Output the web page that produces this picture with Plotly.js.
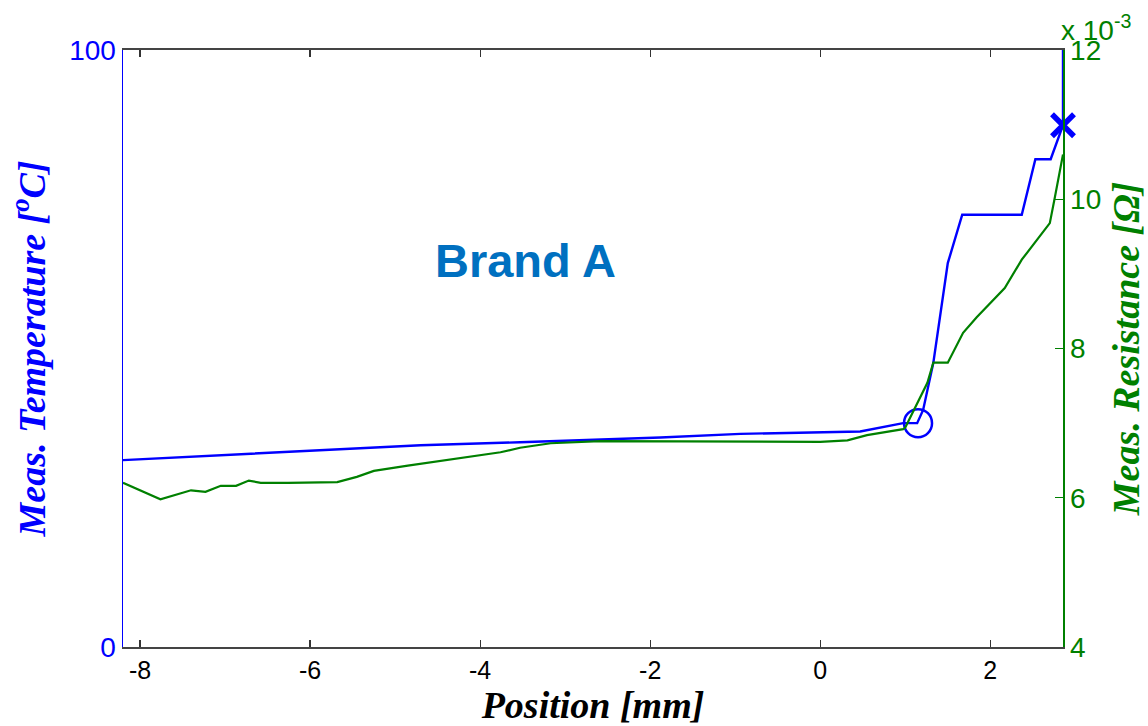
<!DOCTYPE html>
<html>
<head>
<meta charset="utf-8">
<script src="https://cdn.plot.ly/plotly-3.0.1.min.js"></script>
<style>
  html, body { margin: 0; padding: 0; background: #ffffff; }
  #chart { width: 1148px; height: 726px; }
</style>
</head>
<body>
<div id="chart"></div>
<script>
// Temperature trace (left axis, deg C) vs position (mm)
var tempPos = [-8.20, -5.88, -4.70, -3.53, -1.88, -0.94, 0.47, 0.975, 1.14, 1.21, 1.33, 1.50, 1.67, 2.37, 2.53, 2.71, 2.855, 2.855];
var tempVal = [31.3, 33.0, 33.8, 34.3, 35.1, 35.7, 36.1, 37.5, 37.5, 39.7, 47.6, 64.3, 72.4, 72.4, 81.7, 81.7, 87.4, 100];

// Resistance trace (right axis, x 10^-3 ohm) vs position (mm)
var resPos = [-8.20, -7.76, -7.40, -7.23, -7.05, -6.87, -6.72, -6.58, -6.26, -5.91, -5.68, -5.45, -5.25, -4.85, -4.31, -3.76, -3.53, -3.17, -2.59, -1.41, 0.0, 0.32, 0.55, 0.975, 1.0, 1.26, 1.33, 1.50, 1.68, 1.84, 2.17, 2.37, 2.70, 2.76, 2.855];
var resVal = [6.20, 5.98, 6.10, 6.08, 6.16, 6.16, 6.23, 6.20, 6.20, 6.21, 6.21, 6.28, 6.36, 6.43, 6.52, 6.61, 6.67, 6.73, 6.76, 6.76, 6.75, 6.77, 6.84, 6.92, 6.94, 7.54, 7.81, 7.81, 8.21, 8.42, 8.81, 9.19, 9.68, 10.03, 10.60];

// Markers
var circlePos = [1.15];
var circleVal = [37.5];
var crossPos = [2.855];
var crossVal = [87.4];

// Axis ticks
var xTicks = [-8, -6, -4, -2, 0, 2];
var yLeftTicks = [0, 100];
var yRightTicks = [4, 6, 8, 10, 12];

var blue = '#0000ff';
var green = '#008000';
var titleFont = { family: 'Liberation Serif, Times New Roman, serif', size: 38, weight: 'bold', style: 'italic' };

var traces = [
  { x: resPos, y: resVal, yaxis: 'y2', type: 'scatter', mode: 'lines',
    line: { color: green, width: 2.2 }, hoverinfo: 'skip' },
  { x: tempPos, y: tempVal, type: 'scatter', mode: 'lines',
    line: { color: blue, width: 2.4 }, hoverinfo: 'skip', cliponaxis: false },
  { x: circlePos, y: circleVal, type: 'scatter', mode: 'markers', cliponaxis: false,
    marker: { symbol: 'circle-open', size: 28, color: blue, line: { color: blue, width: 2.5 } } },
  { x: crossPos, y: crossVal, type: 'scatter', mode: 'markers', cliponaxis: false,
    marker: { symbol: 'x-thin-open', size: 22, color: blue, line: { color: blue, width: 5.5 } } }
];

var layout = {
  width: 1148, height: 726,
  margin: { l: 123, r: 85, t: 50, b: 79 },
  paper_bgcolor: '#ffffff', plot_bgcolor: '#ffffff',
  showlegend: false,
  xaxis: {
    range: [-8.20, 2.855], tickvals: xTicks, ticktext: xTicks.map(String),
    ticks: 'inside', ticklen: 7, tickwidth: 1.2, tickcolor: '#333333',
    showline: true, linecolor: '#444444', linewidth: 2, mirror: 'ticks',
    showgrid: false, zeroline: false,
    tickfont: { family: 'Liberation Sans, Arial, sans-serif', size: 25, color: '#000000' },
    title: { text: 'Position [mm]', font: Object.assign({}, titleFont, { color: '#000000' }), standoff: 6 }
  },
  yaxis: {
    range: [0, 100], tickvals: yLeftTicks, ticktext: yLeftTicks.map(String),
    ticks: '', showline: true, linecolor: blue, linewidth: 1.5,
    showgrid: false, zeroline: false,
    tickfont: { family: 'Liberation Sans, Arial, sans-serif', size: 28, color: blue },
    title: { text: 'Meas. Temperature [<sup>o</sup>C]', font: Object.assign({}, titleFont, { color: blue }), standoff: 12 }
  },
  yaxis2: {
    range: [4, 12], tickvals: yRightTicks, ticktext: yRightTicks.map(String),
    overlaying: 'y', side: 'right',
    ticks: 'inside', ticklen: 8, tickwidth: 1.2, tickcolor: green,
    showline: true, linecolor: green, linewidth: 1.5,
    showgrid: false, zeroline: false,
    tickfont: { family: 'Liberation Sans, Arial, sans-serif', size: 28, color: green },
    title: { text: 'Meas. Resistance [Ω]', font: Object.assign({}, titleFont, { color: green }), standoff: 12 }
  },
  annotations: [
    { xref: 'paper', yref: 'paper', x: 0.428, y: 0.648, xanchor: 'center', yanchor: 'middle',
      text: '<b>Brand A</b>', showarrow: false,
      font: { family: 'Liberation Sans, Arial, sans-serif', size: 47, color: '#0070C0' } },
    { xref: 'paper', yref: 'paper', x: 1, y: 1, xanchor: 'left', yanchor: 'bottom', yshift: 2, xshift: -4,
      text: 'x 10<sup>-3</sup>', showarrow: false,
      font: { family: 'Liberation Sans, Arial, sans-serif', size: 28, color: green } }
  ]
};

Plotly.newPlot('chart', traces, layout, { displayModeBar: false, staticPlot: true });
</script>
</body>
</html>
